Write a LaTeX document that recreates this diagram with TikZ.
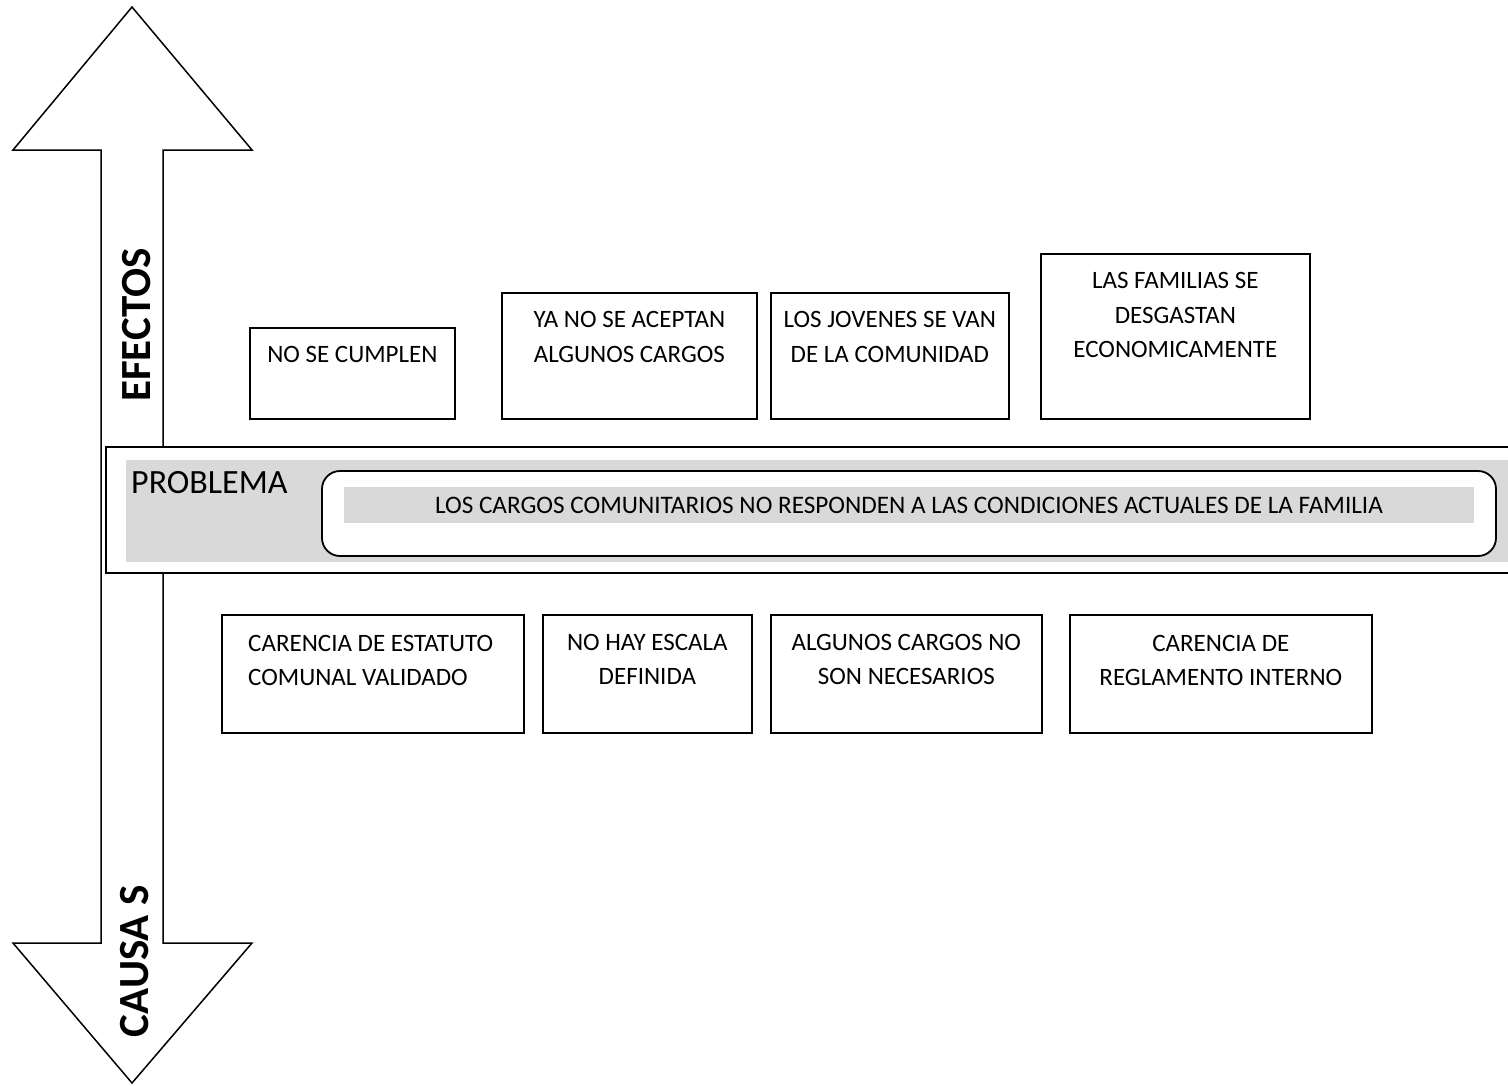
\documentclass[tikz,border=0pt]{standalone}
\usepackage{fontspec}
\setmainfont{Carlito}
\usetikzlibrary{calc}
\definecolor{bandgrey}{HTML}{D9D9D9}
\begin{document}
\begin{tikzpicture}[x=1pt,y=-1pt,line join=miter,
  box/.style={draw=black,line width=1.7pt,fill=white,inner sep=0pt,anchor=north west},
  txt/.style={font=\fontsize{25}{34.5}\selectfont,align=center,inner sep=0pt,anchor=north},
  side/.style={rotate=90,font=\bfseries\fontsize{43}{50}\selectfont,inner sep=0pt}]
\useasboundingbox (0,0) rectangle (1508,1085);
\clip (0,0) rectangle (1508,1085);
% double arrow
\draw[line width=1.5pt,fill=white] (132,7) -- (252,150) -- (163,150) -- (163,943) -- (252,943)
  -- (132,1083) -- (13,943) -- (101,943) -- (101,150) -- (13,150) -- cycle;
\node[side] (efectos) at (137,325) {EFECTOS};
\node[side] (causas) at (135,961) {CAUSA S};
% problem band
\draw[line width=1.7pt,fill=white] (106,447) rectangle (1540,573);
\fill[bandgrey] (126,460) rectangle (1540,562);
\node[anchor=base west,font=\fontsize{34}{40}\selectfont,inner sep=0pt] (problema) at (131,493) {PROBLEMA};
\draw[line width=1.8pt,fill=white,rounded corners=18pt] (322,471) rectangle (1496,556);
\fill[bandgrey] (344,487) rectangle (1474,523);
\node[font=\fontsize{25.2}{30}\selectfont,inner sep=0pt] (problemtext) at (909,505)
  {LOS CARGOS COMUNITARIOS NO RESPONDEN A LAS CONDICIONES ACTUALES DE LA FAMILIA};
% effects
\node[box,minimum width=205,minimum height=91] (e1) at (249,327) {};
\node[box,minimum width=255,minimum height=126] (e2) at (501,292) {};
\node[box,minimum width=238,minimum height=126] (e3) at (770,292) {};
\node[box,minimum width=269,minimum height=165] (e4) at (1040,253) {};
\node[txt] (e1t) at ($(e1.north)+(0,19.5)$) {NO SE CUMPLEN};
\node[txt] (e2t) at ($(e2.north)+(0,19.5)$) {YA NO SE ACEPTAN\\ALGUNOS CARGOS};
\node[txt] (e3t) at ($(e3.north)+(0,19.5)$) {LOS JOVENES SE VAN\\DE LA COMUNIDAD};
\node[txt] (e4t) at ($(e4.north)+(0,19.5)$) {LAS FAMILIAS SE\\DESGASTAN\\ECONOMICAMENTE};
% causes
\node[box,minimum width=302,minimum height=118] (c1) at (221,614) {};
\node[box,minimum width=209,minimum height=118] (c2) at (542,614) {};
\node[box,minimum width=271,minimum height=118] (c3) at (770,614) {};
\node[box,minimum width=302,minimum height=118] (c4) at (1069,614) {};
\node[txt,align=left,anchor=north west] (c1t) at ($(c1.north west)+(27,21)$) {CARENCIA DE ESTATUTO\\COMUNAL VALIDADO};
\node[txt] (c2t) at ($(c2.north)+(0,20)$) {NO HAY ESCALA\\DEFINIDA};
\node[txt] (c3t) at ($(c3.north)+(0,20)$) {ALGUNOS CARGOS NO\\SON NECESARIOS};
\node[txt] (c4t) at ($(c4.north)+(0,21)$) {CARENCIA DE\\REGLAMENTO INTERNO};
\end{tikzpicture}
\end{document}
